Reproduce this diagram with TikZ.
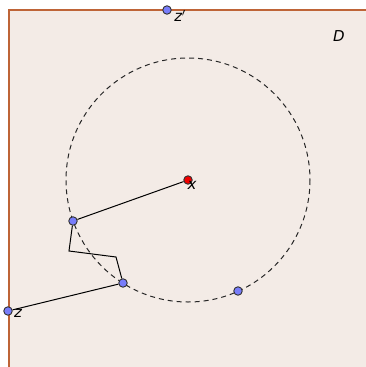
\documentclass[tikz,border=0pt]{standalone}
\usepackage{fontspec}
\setmainfont{DejaVu Sans}
\usetikzlibrary{positioning, calc}
\definecolor{cRegion}{RGB}{243,235,230}
\definecolor{cBorder}{RGB}{190,100,55}
\definecolor{cPoint}{RGB}{120,125,250}
\definecolor{cRed}{RGB}{240,0,0}
\tikzset{
	pt/.style       ={circle, draw=black!80, fill=cPoint, minimum size=8.5pt, inner sep=0pt, line width=0.9pt},
	ptred/.style    ={pt, fill=cRed},
	lbl/.style      ={font=\fontsize{15}{17}\selectfont\itshape, inner sep=0pt},
	walk/.style     ={line width=1pt, black},
	bdry/.style     ={dashed, dash pattern=on 5pt off 4pt, line width=1pt, black!85},
}
\begin{document}
\begin{tikzpicture}[x=1pt, y=-1pt]
	\useasboundingbox (0,0) rectangle (366,367);
	\fill[white] (0,0) rectangle (366,367);
	\fill[cRegion] (9,10) rectangle (366,367);
	\draw[cBorder, line width=1.2pt] (9,367) -- (9,10) -- (366,10);
	\node[lbl] (D) at (339,36) {D};
	% circle
	\draw[bdry] (188,180) circle (122);
	% points
	\node[ptred] (x) at (188,180) {};
	\node[pt] (p1) at (73,221) {};
	\node[pt] (p2) at (123,283) {};
	\node[pt] (p3) at (238,291) {};
	\node[pt] (z) at (8,311) {};
	\node[pt] (zp) at (167,10) {};
	\coordinate (b1) at (69,251);
	\coordinate (b2) at (116,257);
	% path
	\draw[walk] (x) -- (p1) -- (b1) -- (b2) -- (p2) -- (z);
	% labels
	\node[lbl] (xl) at (192,185) {x};
	\node[lbl] (zl) at (18,313) {z};
	\node[lbl] (zpl) at (180,16) {z$'$};
\end{tikzpicture}
\end{document}
